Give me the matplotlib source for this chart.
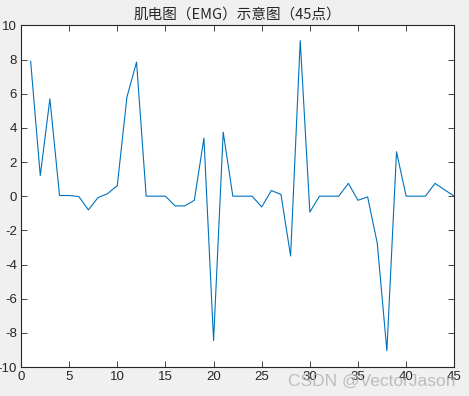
import matplotlib.pyplot as plt

plt.rcParams['font.family'] = ['Liberation Sans', 'Noto Sans CJK SC', 'DejaVu Sans']
plt.rcParams['axes.unicode_minus'] = False

# sample index and EMG amplitude
x_vals = list(range(1, 46))
emg = [7.9, 1.2, 5.7, 0.04, 0.04, -0.02, -0.8, -0.08, 0.15, 0.62,
       5.8, 7.85, 0.0, 0.0, 0.0, -0.57, -0.57, -0.24, 3.4, -8.45,
       3.75, 0.0, 0.0, 0.0, -0.63, 0.33, 0.1, -3.5, 9.1, -0.93,
       0.0, 0.0, 0.0, 0.75, -0.24, -0.04, -2.75, -9.05, 2.6, 0.0,
       0.0, 0.0, 0.75, 0.37, 0.0]
x_ticks = [0, 5, 10, 15, 20, 25, 30, 35, 40, 45]
y_ticks = [-10, -8, -6, -4, -2, 0, 2, 4, 6, 8, 10]
title = '肌电图（EMG）示意图（45点）'

fig = plt.figure(figsize=(4.69, 3.96), dpi=100, facecolor='#f0f0f0')
ax = fig.add_axes([0.0448, 0.0732, 0.9238, 0.8628])
ax.plot(x_vals, emg, color='#0072BD', linewidth=0.8)

ax.set_xlim(0, 45)
ax.set_ylim(-10, 10)
ax.set_xticks(x_ticks)
ax.set_yticks(y_ticks)
ax.tick_params(direction='in', length=4, width=0.6, top=True, right=True,
               labelsize=9.5, colors='#262626', pad=3)
for s in ax.spines.values():
    s.set_linewidth(0.8)
    s.set_color('#262626')

ax.set_title(title, fontsize=10.5, color='#262626', pad=5,
             family=['Noto Sans CJK SC', 'Liberation Sans'])

# watermark from the source image
fig.text(0.614, 0.0366, 'CSDN @VectorJason', fontsize=12.5, color='#b0b0b0',
         alpha=0.8, va='center', ha='left')

fig.savefig('out.png', dpi=100, facecolor=fig.get_facecolor())
